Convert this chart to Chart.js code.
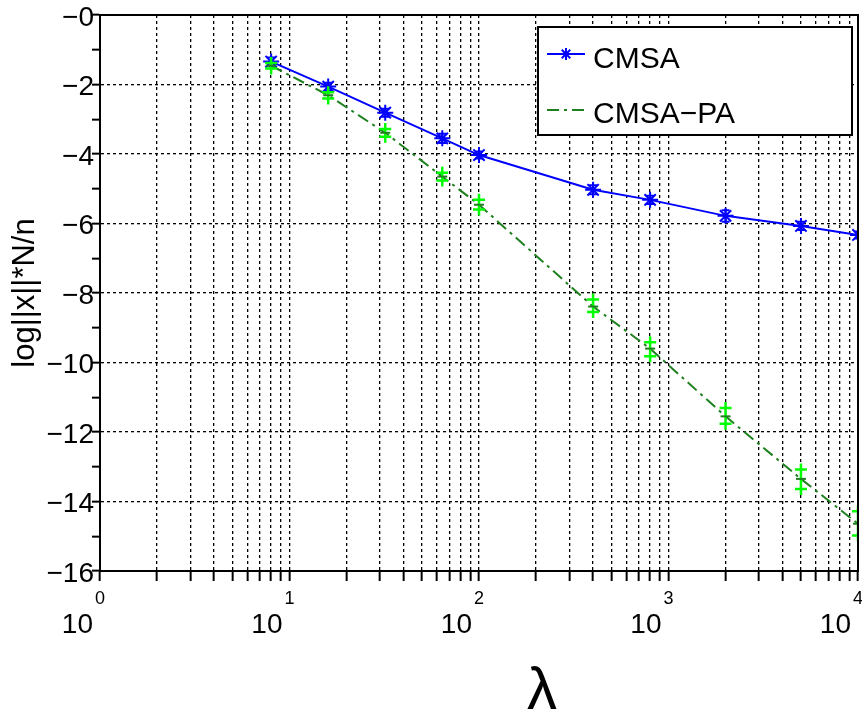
<!DOCTYPE html>
<html>
<head>
<meta charset="utf-8">
<script src="https://cdn.jsdelivr.net/npm/chart.js@4.4.0/dist/chart.umd.min.js"></script>
<style>
  body { margin: 0; background: #fff; }
  #wrap { width: 862px; height: 715px; }
</style>
</head>
<body>
<div id="wrap"><canvas id="chart"></canvas></div>
<script>
// population sizes (x axis, log scale)
const lambda = [8, 16, 32, 64, 100, 400, 800, 2000, 5000, 10000];

// CMSA: mean and spread
const cmsaMean = [-1.34, -2.06, -2.81, -3.55, -4.03, -5.03, -5.32, -5.78, -6.07, -6.33];
const cmsaHi   = [-1.22, -1.95, -2.70, -3.42, -3.93, -4.90, -5.20, -5.62, -5.95, -6.23];
const cmsaLo   = [-1.46, -2.17, -2.93, -3.68, -4.13, -5.16, -5.44, -5.95, -6.19, -6.43];

// CMSA-PA: mean and spread
const paMean = [-1.46, -2.31, -3.39, -4.65, -5.46, -8.39, -9.60, -11.55, -13.35, -14.64];
const paHi   = [-1.38, -2.22, -3.28, -4.54, -5.32, -8.19, -9.42, -11.31, -13.08, -14.28];
const paLo   = [-1.54, -2.40, -3.50, -4.76, -5.60, -8.55, -9.82, -11.76, -13.64, -14.98];

// x tick labels: 10^e
const xExponents = [0, 1, 2, 3, 4];
const seriesNames = ['CMSA', 'CMSA\u2212PA'];

const FONT = '"Liberation Sans", Arial, sans-serif';
const BLUE = 'rgb(0,0,255)';
const DKGREEN = 'rgb(30,128,30)';
const LIME = 'rgb(0,255,0)';
const DASHDOT = [12, 5, 3, 5];

// todas las posiciones de rejilla del eje logaritmico
function logGridTicks() {
    var t = [];
    for (var e = 0; e < 4; e++) {
        for (var k = 1; k < 10; k++) t.push({ value: k * Math.pow(10, e) });
    }
    t.push({ value: 10000 });
    return t;
}

const extras = {
    id: 'extras',
    afterDatasetsDraw(chart) {
        const ctx = chart.ctx, x = chart.scales.x, y = chart.scales.y, a = chart.chartArea;
        ctx.save();
        ctx.beginPath();
        ctx.rect(a.left, a.top, a.right - a.left, a.bottom - a.top);
        ctx.clip();
        ctx.setLineDash([]);
        // barras de error CMSA
        ctx.strokeStyle = BLUE;
        ctx.lineWidth = 2;
        for (var i = 0; i < lambda.length; i++) {
            var px = x.getPixelForValue(lambda[i]);
            var yh = y.getPixelForValue(cmsaHi[i]), yl = y.getPixelForValue(cmsaLo[i]);
            ctx.beginPath();
            ctx.moveTo(px, yh); ctx.lineTo(px, yl);
            ctx.moveTo(px - 4, yh); ctx.lineTo(px + 4, yh);
            ctx.moveTo(px - 4, yl); ctx.lineTo(px + 4, yl);
            ctx.stroke();
        }
        // barras de error CMSA-PA
        for (var j = 0; j < lambda.length; j++) {
            var qx = x.getPixelForValue(lambda[j]);
            var h = y.getPixelForValue(paHi[j]), l = y.getPixelForValue(paLo[j]), m = y.getPixelForValue(paMean[j]);
            ctx.strokeStyle = LIME;
            ctx.lineWidth = 2.5;
            ctx.beginPath();
            ctx.moveTo(qx, h - 6); ctx.lineTo(qx, l + 6);
            ctx.moveTo(qx - 6, h); ctx.lineTo(qx + 6, h);
            ctx.moveTo(qx - 6, l); ctx.lineTo(qx + 6, l);
            ctx.stroke();
            ctx.strokeStyle = DKGREEN;
            ctx.lineWidth = 2;
            ctx.beginPath();
            ctx.moveTo(qx - 5, m); ctx.lineTo(qx + 5, m);
            ctx.stroke();
        }
        ctx.restore();
    },
    afterDraw(chart) {
        const ctx = chart.ctx, x = chart.scales.x, a = chart.chartArea;
        ctx.save();
        // marco
        ctx.strokeStyle = '#000';
        ctx.lineWidth = 2;
        ctx.setLineDash([]);
        ctx.strokeRect(a.left, a.top, a.right - a.left, a.bottom - a.top);

        // etiquetas 10^e
        ctx.fillStyle = '#000';
        xExponents.forEach(function (e) {
            var px = x.getPixelForValue(Math.pow(10, e));
            ctx.font = '28px ' + FONT;
            ctx.textAlign = 'right';
            ctx.textBaseline = 'alphabetic';
            ctx.fillText('10', px - 7, a.bottom + 62);
            ctx.font = '18px ' + FONT;
            ctx.textAlign = 'center';
            ctx.fillText(String(e), px, a.bottom + 33);
        });

        // titulo eje x
        ctx.font = '60px ' + FONT;
        ctx.textAlign = 'center';
        ctx.fillText('\u03bb', 542, 709);

        // leyenda
        var lx = 538, ly = 27, lw = 314, lh = 108;
        ctx.fillStyle = '#fff';
        ctx.fillRect(lx, ly, lw, lh);
        ctx.strokeStyle = '#000';
        ctx.lineWidth = 2;
        ctx.strokeRect(lx, ly, lw, lh);

        ctx.strokeStyle = BLUE;
        ctx.beginPath(); ctx.moveTo(547, 54); ctx.lineTo(585, 54); ctx.stroke();
        Chart.helpers.drawPoint(ctx, { pointStyle: 'star', radius: 6, borderWidth: 2 }, 566, 54);

        ctx.strokeStyle = DKGREEN;
        ctx.setLineDash(DASHDOT);
        ctx.beginPath(); ctx.moveTo(547, 110); ctx.lineTo(585, 110); ctx.stroke();
        ctx.setLineDash([]);

        ctx.fillStyle = '#000';
        ctx.font = '30px ' + FONT;
        ctx.textAlign = 'left';
        ctx.fillText(seriesNames[0], 593, 68);
        ctx.fillText(seriesNames[1], 593, 123);
        ctx.restore();
    }
};

const ctx = document.getElementById('chart').getContext('2d');

new Chart(ctx, {
    type: 'line',
    data: {
        datasets: [{
            label: seriesNames[0],
            data: lambda.map((v, i) => ({ x: v, y: cmsaMean[i] })),
            borderColor: BLUE,
            backgroundColor: BLUE,
            borderWidth: 2,
            pointStyle: 'star',
            pointRadius: 8,
            pointBorderWidth: 2,
            pointBorderColor: BLUE,
            tension: 0,
            clip: 0
        }, {
            label: seriesNames[1],
            data: lambda.map((v, i) => ({ x: v, y: paMean[i] })),
            borderColor: DKGREEN,
            borderWidth: 2,
            borderDash: DASHDOT,
            pointRadius: 0,
            tension: 0,
            clip: 0
        }]
    },
    options: {
        responsive: true,
        maintainAspectRatio: false,
        animation: false,
        layout: { autoPadding: false, padding: { top: 15, right: 4, left: 0, bottom: 0 } },
        plugins: {
            legend: { display: false },
            tooltip: { enabled: false }
        },
        scales: {
            x: {
                type: 'logarithmic',
                min: 1,
                max: 10000,
                afterBuildTicks: function (scale) { scale.ticks = logGridTicks(); },
                afterFit: function (scale) { scale.height = 144; },
                ticks: { display: false },
                grid: {
                    color: '#000',
                    lineWidth: 1.3,
                    tickLength: 10,
                    tickWidth: 2,
                    tickColor: '#000'
                },
                border: { display: true, color: '#000', width: 2, dash: [3, 3] }
            },
            y: {
                min: -16,
                max: 0,
                afterFit: function (scale) { scale.width = 100; },
                ticks: {
                    stepSize: 1,
                    autoSkip: false,
                    color: '#000',
                    padding: -2,
                    labelOffset: 3,
                    font: { family: FONT, size: 28, lineHeight: 1 },
                    callback: function (v) {
                        if (v % 2 !== 0) return '';
                        return '\u2212' + Math.abs(v);
                    }
                },
                grid: {
                    color: function (c) { return c.tick && c.tick.value % 2 === 0 ? '#000' : 'rgba(0,0,0,0)'; },
                    lineWidth: 1.3,
                    tickLength: 8,
                    tickWidth: 2,
                    tickColor: '#000'
                },
                border: { display: true, color: '#000', width: 2, dash: [3, 3] },
                title: {
                    display: true,
                    text: 'log||x||*N/n',
                    color: '#000',
                    font: { family: FONT, size: 31 },
                    padding: { top: 7, bottom: 0 }
                }
            }
        }
    },
    plugins: [extras]
});
</script>
</body>
</html>
